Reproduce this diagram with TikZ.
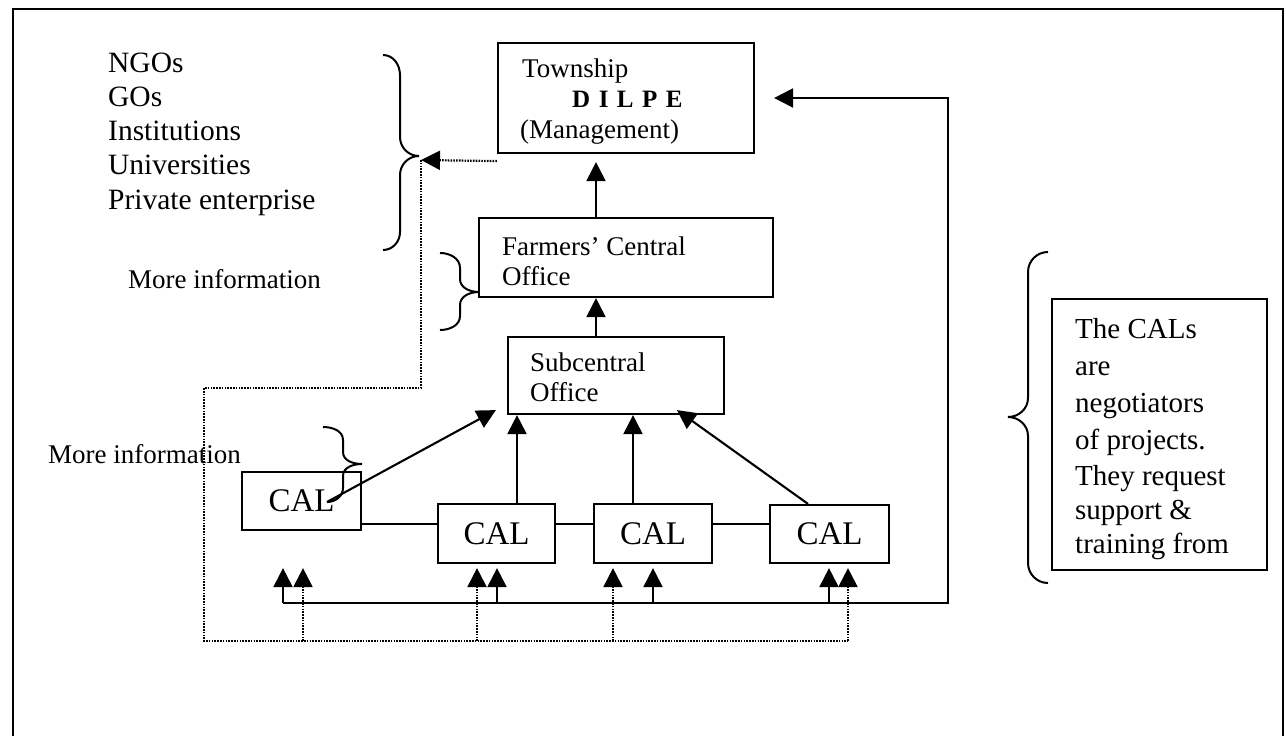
\documentclass[tikz,border=0pt]{standalone}
\usepackage{fontspec}
\setmainfont{Liberation Serif}
\usetikzlibrary{arrows.meta}
\begin{document}
\begin{tikzpicture}[x=1pt,y=-1pt,
  frame/.style={line width=2.6pt},
  box/.style={draw, line width=2.2pt, inner sep=0pt},
  link/.style={line width=2.1pt},
  arr/.style={line width=2.1pt, -{Triangle[length=19pt,width=19pt]}},
  dot/.style={line width=2.2pt, dash pattern=on 1.6pt off 1.2pt},
  darr/.style={dot, -{Triangle[length=19pt,width=19pt]}},
  brace/.style={line width=2pt},
  txt/.style={anchor=base west, inner sep=0pt, font=\fontsize{27}{32}\selectfont},
  bigtxt/.style={anchor=base west, inner sep=0pt, font=\fontsize{29.5}{35}\selectfont},
  notetxt/.style={anchor=base west, inner sep=0pt, font=\fontsize{29}{36}\selectfont},
  calbox/.style={box, font=\fontsize{33}{36}\selectfont}
]
\useasboundingbox (0,0) rectangle (1286,736);
\fill[white] (0,0) rectangle (1286,736);

% outer frame
\draw[frame] (13,736) -- (13,9) -- (1283,9) -- (1283,736);

% organisations list
\node[bigtxt] (ngo1) at (108,72)  {NGOs};
\node[bigtxt] (ngo2) at (108,106) {GOs};
\node[bigtxt] (ngo3) at (108,140) {Institutions};
\node[bigtxt] (ngo4) at (108,174) {Universities};
\node[bigtxt] (ngo5) at (108,209) {Private enterprise};
\node[txt] (info1) at (128,288) {More information};
\node[txt] (info2) at (48,463)  {More information};

% hierarchy boxes
\node[box, minimum width=256pt, minimum height=110pt] (town) at (626,98) {};
\node[txt] (townA) at (522,77) {Township};
\node[anchor=base west, inner sep=0pt, font=\fontsize{25}{28}\selectfont\bfseries]
  (townB) at (572,107) {D\hspace{8.5pt}I\hspace{8.5pt}L\hspace{8.5pt}P\hspace{8.5pt}E};
\node[txt] (townC) at (520,138) {(Management)};

\node[box, minimum width=294pt, minimum height=79pt] (farm) at (626,257.5) {};
\node[txt] (farmA) at (502,255) {Farmers’ Central};
\node[txt] (farmB) at (502,285) {Office};

\node[box, minimum width=216pt, minimum height=77pt] (sub) at (616,375.5) {};
\node[txt] (subA) at (530,371) {Subcentral};
\node[txt] (subB) at (530,401) {Office};

\node[calbox, minimum width=119pt, minimum height=58pt] (cal1) at (301.5,501) {CAL};
\node[calbox, minimum width=117pt, minimum height=59pt] (cal2) at (496.5,533.5) {CAL};
\node[calbox, minimum width=118pt, minimum height=59pt] (cal3) at (653,533.5) {CAL};
\node[calbox, minimum width=119pt, minimum height=58pt] (cal4) at (829.5,534) {CAL};

% note box
\node[box, minimum width=215pt, minimum height=271pt] (note) at (1159.5,434.5) {};
\node[notetxt] (n1) at (1075,338) {The CALs};
\node[notetxt] (n2) at (1075,375) {are};
\node[notetxt] (n3) at (1075,412) {negotiators};
\node[notetxt] (n4) at (1075,449) {of projects.};
\node[notetxt] (n5) at (1075,485) {They request};
\node[notetxt] (n6) at (1075,519) {support \&};
\node[notetxt] (n7) at (1075,553) {training from};

% braces
\draw[brace] (383,55) to[out=0,in=90] (400,75) -- (400,137)
  to[out=-90,in=180] (419,156) to[out=180,in=90] (400,175) -- (400,232)
  to[out=-90,in=0] (383,250);
\draw[brace] (440,253) to[out=0,in=90] (460,268) -- (460,279)
  to[out=-90,in=180] (479,292) to[out=180,in=90] (460,305) -- (460,316)
  to[out=-90,in=0] (440,330);
\draw[brace] (323,427) to[out=0,in=90] (343,440) -- (343,452)
  to[out=-90,in=180] (362,464) to[out=180,in=90] (343,476) -- (343,488)
  to[out=-90,in=0] (327,502);
\draw[brace] (1048,252) to[out=180,in=90] (1028,272) -- (1028,398)
  to[out=-90,in=0] (1008,417) to[out=0,in=90] (1028,436) -- (1028,563)
  to[out=-90,in=180] (1048,583);

% upward reporting arrows
\draw[arr] ([xshift=-30pt]farm.north) -- ([xshift=-30pt,yshift=-8pt]town.south);
\draw[arr] ([xshift=-20pt]sub.north) -- ([xshift=-30pt]farm.south);
\draw[arr] ([xshift=25.5pt,yshift=-1pt]cal1.center) -- ([xshift=-11pt,yshift=5pt]sub.south west);
\draw[arr] ([xshift=20.5pt]cal2.north) -- ([xshift=-99pt]sub.south);
\draw[arr] ([xshift=-20pt]cal3.north) -- ([xshift=17pt]sub.south);
\draw[arr] ([xshift=-21.5pt]cal4.north) -- ([xshift=61pt,yshift=5pt]sub.south);

% links between CALs
\draw[link] ([yshift=-23pt]cal1.east) -- ([yshift=9.5pt]cal2.west);
\draw[link] ([yshift=9.5pt]cal2.east) -- ([yshift=9.5pt]cal3.west);
\draw[link] ([yshift=9.5pt]cal3.east) -- ([yshift=10pt]cal4.west);

% solid support line back to the township
\coordinate (busL) at (283,603);
\coordinate (busR) at (948,603);
\draw[arr] (busL) -- (busR) -- (busR |- town.east) -- ([xshift=19pt]town.east);
\coordinate (s1) at ([xshift=-18.5pt,yshift=-37pt]cal1.south);
\coordinate (s2) at ([xshift=0.5pt,yshift=-4pt]cal2.south);
\coordinate (s3) at ([yshift=-4pt]cal3.south);
\coordinate (s4) at ([xshift=-0.5pt,yshift=-4pt]cal4.south);
\foreach \t in {s1,s2,s3,s4} \draw[arr] (\t |- busL) -- (\t);

% dotted information line from the organisations
\coordinate (brTip) at (421,160);
\coordinate (dotL) at (204,641);
\coordinate (dotR) at (848,641);
\draw[darr] ([yshift=-7pt]town.south west) -- (brTip);
\draw[dot] (brTip) -- (421,388) -- (204,388) -- (dotL) -- (dotR);
\coordinate (d1) at ([xshift=1.5pt,yshift=-37pt]cal1.south);
\coordinate (d2) at ([xshift=-19.5pt,yshift=-4pt]cal2.south);
\coordinate (d3) at ([xshift=-40pt,yshift=-4pt]cal3.south);
\coordinate (d4) at ([xshift=18.5pt,yshift=-4pt]cal4.south);
\foreach \t in {d1,d2,d3,d4} \draw[darr] (\t |- dotL) -- (\t);
\end{tikzpicture}
\end{document}
